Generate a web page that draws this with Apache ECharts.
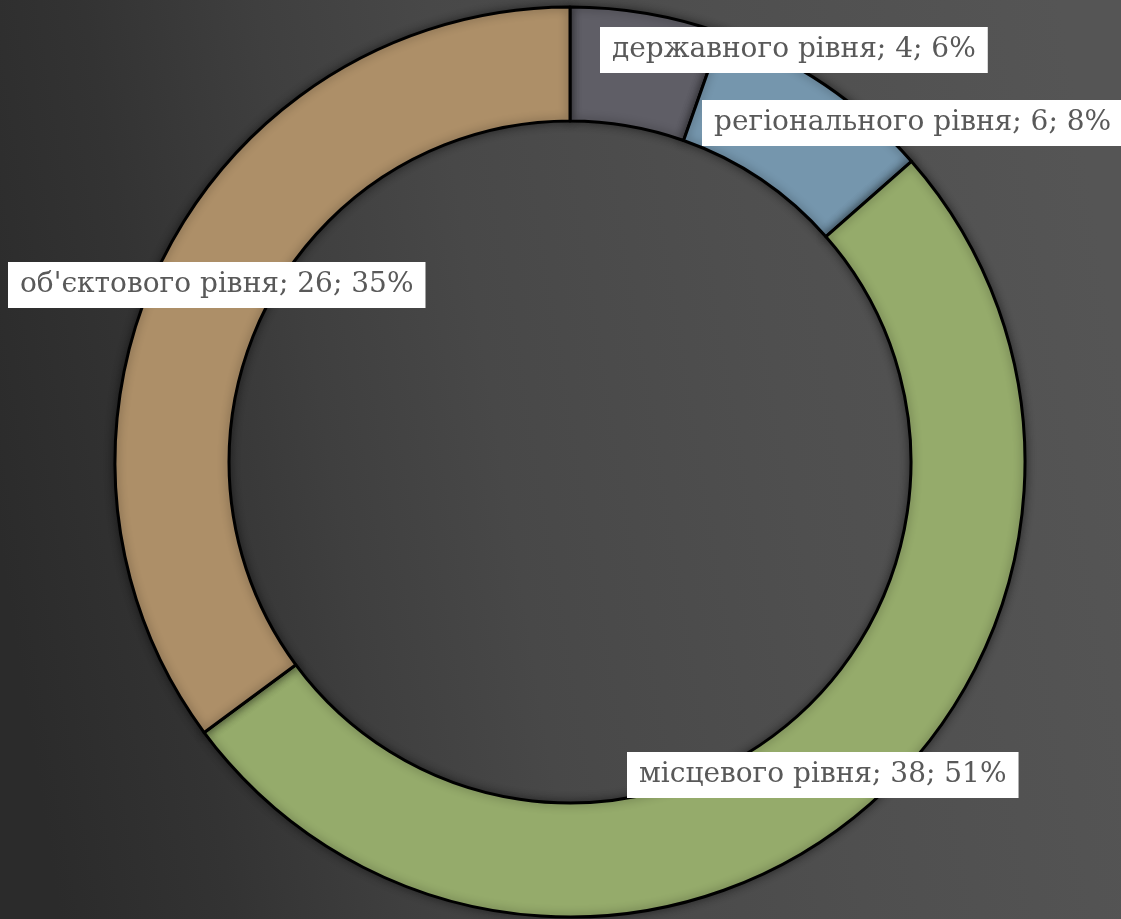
<!DOCTYPE html>
<html>
<head>
<meta charset="utf-8">
<script src="https://cdn.jsdelivr.net/npm/echarts@6/dist/echarts.min.js"></script>
<style>
html,body{margin:0;padding:0;width:1121px;height:919px;overflow:hidden;}
#chart{width:1121px;height:919px;}
</style>
</head>
<body>
<div id="chart"></div>
<script>
const categories = ["державного рівня", "регіонального рівня", "місцевого рівня", "об'єктового рівня"];
const values = [4, 6, 38, 26];
const colors = ["#5f5e66", "#7596ad", "#95ab6b", "#ad8f68"];

// label box top-left corners (layout, same order as categories)
const labelAnchors = [[600, 27], [702, 100], [627, 752], [8, 262]];

const chart = echarts.init(document.getElementById('chart'), null, {renderer: 'canvas'});
chart.setOption({
  animation: false,
  backgroundColor: {
    type: 'linear', x: 0, y: 0.6, x2: 1, y2: 0.4,
    colorStops: [
      {offset: 0, color: '#2b2b2b'},
      {offset: 0.15, color: '#333333'},
      {offset: 0.3, color: '#3f3f3f'},
      {offset: 0.45, color: '#484848'},
      {offset: 0.7, color: '#4f4f4f'},
      {offset: 1, color: '#555555'}
    ]
  },
  series: [{
    type: 'pie',
    center: [570, 462],
    radius: [341, 455],
    startAngle: 90,
    clockwise: true,
    percentPrecision: 0,
    avoidLabelOverlap: false,
    data: categories.map((c, i) => ({name: c, value: values[i], itemStyle: {color: colors[i]}})),
    itemStyle: {
      borderColor: '#000',
      borderWidth: 3,
      shadowBlur: 10,
      shadowColor: 'rgba(0,0,0,0.45)'
    },
    label: {
      show: true,
      position: 'outside',
      formatter: '{b}; {c}; {d}%',
      fontFamily: 'DejaVu Serif',
      fontSize: 28,
      lineHeight: 34,
      color: '#595959',
      backgroundColor: '#ffffff',
      padding: [6, 12]
    },
    labelLine: {show: false},
    labelLayout: function (p) {
      const a = labelAnchors[p.dataIndex];
      return {x: a[0], y: a[1], align: 'left', verticalAlign: 'top'};
    },
    emphasis: {disabled: true}
  }]
});
</script>
</body>
</html>
